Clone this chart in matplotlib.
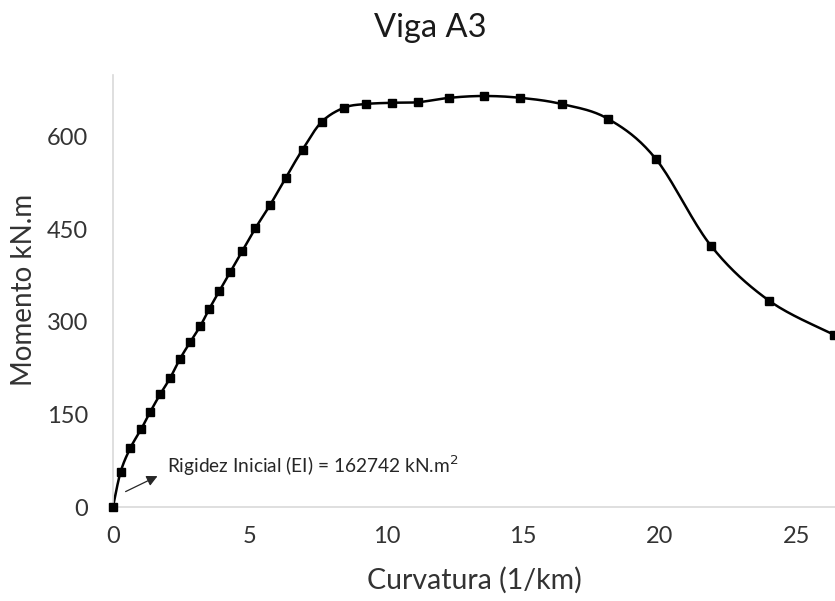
import matplotlib.pyplot as plt
import numpy as np

# Data
curvatura = [0, 0.28, 0.64, 1.03, 1.36, 1.73, 2.09, 2.45, 2.82, 3.19, 3.52, 3.89,
             4.29, 4.73, 5.21, 5.74, 6.31, 6.93, 7.63, 8.45, 9.24, 10.2, 11.17,
             12.3, 13.55, 14.9, 16.4, 18.1, 19.85, 21.87, 24.0, 26.37]
momento = [0, 57, 96, 126, 154, 183, 209, 240, 267, 293, 321, 350,
           381, 415, 452, 489, 533, 579, 624, 647, 653, 655, 656,
           663, 666, 663, 653, 629, 564, 423, 334, 279]

x_ticks = [0, 5, 10, 15, 20, 25]
y_ticks = [0, 150, 300, 450, 600]


def smooth(xs, ys, n=20):
    # Catmull-Rom curve through the points, like Excel's smoothed line
    p = np.column_stack([xs, ys]).astype(float)
    p = np.vstack([p[0], p, p[-1]])
    out = []
    t = np.linspace(0, 1, n, endpoint=False)[:, None]
    for i in range(1, len(p) - 2):
        p0, p1, p2, p3 = p[i - 1], p[i], p[i + 1], p[i + 2]
        seg = 0.5 * ((2 * p1) + (-p0 + p2) * t + (2 * p0 - 5 * p1 + 4 * p2 - p3) * t ** 2
                     + (-p0 + 3 * p1 - 3 * p2 + p3) * t ** 3)
        out.append(seg)
    out.append(p[-2][None, :])
    out = np.vstack(out)
    return out[:, 0], out[:, 1]


plt.rcParams['font.family'] = ['Lato', 'DejaVu Sans']
txt = '#333333'

fig = plt.figure(figsize=(8.35, 6.01), dpi=100)
ax = fig.add_axes([0.1353, 0.1564, 0.8647, 0.7188])

sx, sy = smooth(curvatura, momento)
ax.plot(sx, sy, color='black', linewidth=1.8, zorder=2)
ax.plot(curvatura, momento, linestyle='none', marker='s', markersize=6,
        color='black', zorder=3, clip_on=False)

ax.set_xlim(0, 26.4)
ax.set_ylim(0, 700)
ax.set_xticks(x_ticks)
ax.set_yticks(y_ticks)
ax.tick_params(length=0, labelsize=17, colors=txt)
ax.tick_params(axis='x', pad=14)
ax.tick_params(axis='y', pad=18)
for s in ['top', 'right']:
    ax.spines[s].set_visible(False)
for s in ['left', 'bottom']:
    ax.spines[s].set_color('#d9d9d9')
    ax.spines[s].set_linewidth(1.2)

ax.set_xlabel('Curvatura (1/km)', fontsize=20.5, color=txt, va='center')
ax.xaxis.set_label_coords(0.501, -0.169)
ax.set_ylabel('Momento kN.m', fontsize=20, color=txt, va='center')
ax.yaxis.set_label_coords(-0.123, 0.502)
fig.text(0.515, 1 - 37 / 601, 'Viga A3', fontsize=23.5, color='#1a1a1a',
         ha='center', va='baseline')

ax.annotate('', xy=(1.72, 52), xytext=(0.37, 23),
            arrowprops=dict(arrowstyle='-|>', color='#262626', lw=0.9,
                            mutation_scale=16))
ax.text(1.98, 55, 'Rigidez Inicial (EI) = 162742 kN.m$^2$', fontsize=13.8,
        color='#262626', va='baseline', ha='left')

fig.savefig('out.png', dpi=100)
